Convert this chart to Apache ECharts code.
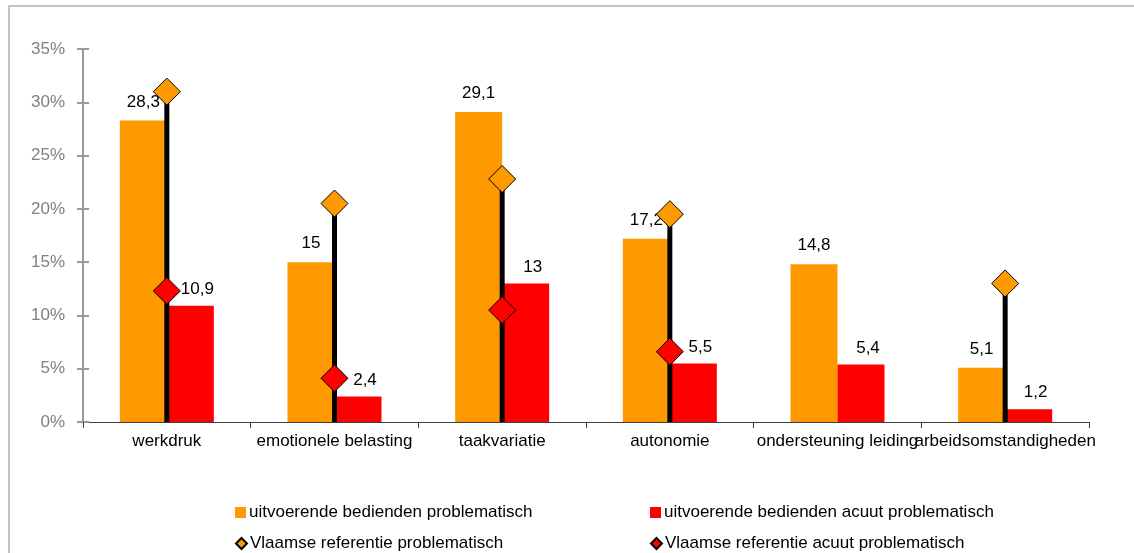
<!DOCTYPE html>
<html>
<head>
<meta charset="utf-8">
<script src="https://cdn.jsdelivr.net/npm/echarts@6/dist/echarts.min.js"></script>
<style>
html,body{margin:0;padding:0;background:#fff;}
#chart{width:1134px;height:553px;}
</style>
</head>
<body>
<div id="chart"></div>
<script>
const categories = ['werkdruk','emotionele belasting','taakvariatie','autonomie','ondersteuning leiding','arbeidsomstandigheden'];
const uitvoerendProblematisch = [28.3, 15, 29.1, 17.2, 14.8, 5.1];
const uitvoerendAcuut = [10.9, 2.4, 13, 5.5, 5.4, 1.2];
const vlaamsProblematisch = [31, 20.5, 22.8, 19.5, null, 13];
const vlaamsAcuut = [12.3, 4.1, 10.5, 6.6, null, null];
const yTicks = [0, 5, 10, 15, 20, 25, 30, 35];

const FONT = '"Liberation Sans", Arial, sans-serif';
const fmt = v => String(v).replace('.', ',');

const chart = echarts.init(document.getElementById('chart'), null, {renderer: 'canvas'});

const stemData = vlaamsProblematisch.map((v, i) => v == null ? null : [i, v]).filter(Boolean);

function oneLegend(name, icon, left, top) {
  return {
    orient: 'horizontal',
    left: left,
    top: top,
    itemWidth: 11,
    itemHeight: 11,
    itemGap: 0,
    padding: 0,
    textStyle: {color: '#000', fontSize: 17, fontFamily: FONT, padding: [0, 0, 0, -2]},
    data: [{name: name, icon: icon}]
  };
}

const yBase = {
  type: 'value',
  min: yTicks[0],
  max: yTicks[yTicks.length - 1],
  interval: 5,
  position: 'left',
  splitLine: {show: false}
};

chart.setOption({
  animation: false,
  backgroundColor: '#fff',
  textStyle: {fontFamily: FONT},
  graphic: [{
    type: 'polyline',
    shape: {points: [[9, 553], [9, 6], [1134, 6]]},
    style: {stroke: '#c4c4c4', lineWidth: 2, fill: null},
    silent: true
  }],
  grid: {left: 83, right: 45, top: 49, bottom: 131, containLabel: false},
  xAxis: {
    type: 'category',
    data: categories,
    axisLine: {lineStyle: {color: '#404040', width: 1}},
    axisTick: {show: true, length: 6, lineStyle: {color: '#404040'}},
    axisLabel: {color: '#000', fontSize: 17, fontFamily: FONT, margin: 11, interval: 0}
  },
  yAxis: [
    Object.assign({}, yBase, {
      axisLine: {show: true, lineStyle: {color: '#9a9a9a', width: 2}},
      axisTick: {show: true, length: 6, lineStyle: {color: '#9a9a9a', width: 2}},
      axisLabel: {color: '#808080', fontSize: 17, fontFamily: FONT, margin: 18, formatter: '{value}%'}
    }),
    Object.assign({}, yBase, {
      axisLine: {show: false},
      axisTick: {show: true, inside: true, length: 6, lineStyle: {color: '#9a9a9a', width: 2}},
      axisLabel: {show: false}
    })
  ],
  legend: [
    oneLegend('uitvoerende bedienden problematisch', 'rect', 235, 504),
    oneLegend('Vlaamse referentie problematisch', 'diamond', 235, 535),
    oneLegend('uitvoerende bedienden acuut problematisch', 'rect', 650, 504),
    oneLegend('Vlaamse referentie acuut problematisch', 'diamond', 650, 535)
  ],
  series: [
    {
      name: 'uitvoerende bedienden problematisch',
      type: 'bar',
      data: uitvoerendProblematisch,
      barWidth: 47,
      barGap: '0%',
      itemStyle: {color: '#FF9900'},
      label: {show: true, position: 'top', distance: 10, color: '#000', fontSize: 17, fontFamily: FONT, formatter: p => fmt(p.value)},
      z: 2
    },
    {
      name: 'uitvoerende bedienden acuut problematisch',
      type: 'bar',
      data: uitvoerendAcuut,
      barWidth: 47,
      barGap: '0%',
      itemStyle: {color: '#FF0000'},
      label: {show: true, position: 'top', distance: 8, offset: [7, 0], color: '#000', fontSize: 17, fontFamily: FONT, formatter: p => fmt(p.value)},
      z: 2
    },
    {
      name: 'stem',
      type: 'custom',
      data: stemData,
      encode: {x: 0, y: 1},
      z: 3,
      silent: true,
      renderItem: (params, api) => {
        const top = api.coord([api.value(0), api.value(1)]);
        const bot = api.coord([api.value(0), 0]);
        return {type: 'line', shape: {x1: top[0], y1: top[1], x2: bot[0], y2: bot[1]}, style: {stroke: '#000', lineWidth: 5}};
      }
    },
    {
      name: 'Vlaamse referentie problematisch',
      type: 'scatter',
      data: vlaamsProblematisch,
      symbol: 'diamond',
      symbolSize: 27,
      itemStyle: {color: '#FF9900', borderColor: '#000', borderWidth: 1, opacity: 1},
      z: 5
    },
    {
      name: 'Vlaamse referentie acuut problematisch',
      type: 'scatter',
      data: vlaamsAcuut,
      symbol: 'diamond',
      symbolSize: 27,
      itemStyle: {color: '#FF0000', borderColor: '#000', borderWidth: 1, opacity: 1},
      z: 5
    }
  ]
});
</script>
</body>
</html>
